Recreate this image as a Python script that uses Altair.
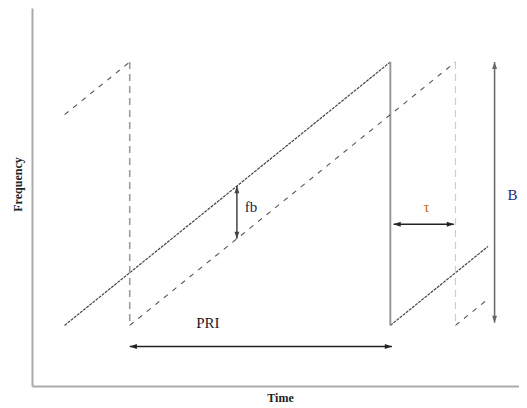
import altair as alt
import pandas as pd

# Transmitted FMCW sweep (solid sawtooth)
tx_seg = ["a", "a", "b", "b"]
tx_t = [0, 10, 10, 13]
tx_f = [0, 10, 0, 3]
tx_drop_t = [10, 10]
tx_drop_f = [10, 0]

# Received (delayed) sweep (dashed sawtooth)
rx_seg = ["a", "a", "b", "b", "c", "c"]
rx_t = [0, 2, 2, 12, 12, 13]
rx_f = [8, 10, 0, 10, 0, 1]
rx_drop1_t = [2, 2]
rx_drop1_f = [10, 0]
rx_drop2_t = [12, 12]
rx_drop2_f = [10, 0]

# Dimension arrows
arr_name = ["fb", "tau", "B", "PRI"]
arr_t1 = [5.29, 10.1, 13.2, 2.0]
arr_t2 = [5.29, 11.95, 13.2, 10.05]
arr_f1 = [5.29, 3.84, 10.0, -0.8]
arr_f2 = [3.29, 3.84, 0.1, -0.8]
arr_color = ["#444444", "#222222", "#666666", "#222222"]
arr_vertical = [True, False, True, False]

# Labels
lab_text = ["fb", "τ", "B", "PRI"]
lab_t = [5.72, 11.11, 13.75, 4.4]
lab_f = [4.49, 4.49, 4.94, 0.08]
lab_color = ["#1a2550", "#c06a10", "#1a2a7a", "#1a1a2a"]

X_DOM = [-1.0, 13.95]
Y_DOM = [-2.3, 12.05]
SERIF = "Liberation Serif"

xs = alt.Scale(domain=X_DOM, nice=False, zero=False)
ys = alt.Scale(domain=Y_DOM, nice=False, zero=False)

x_axis = alt.Axis(title="Time", ticks=False, labels=False, grid=False,
                  domainColor="#aaaaaa", domainWidth=2,
                  titleFont=SERIF, titleFontWeight="bold", titleFontSize=12,
                  titleColor="#222222", titleX=248, titleY=11,
                  titleAlign="center", titleBaseline="middle")
y_axis = alt.Axis(title="Frequency", ticks=False, labels=False, grid=False,
                  domainColor="#aaaaaa", domainWidth=2,
                  titleFont=SERIF, titleFontWeight="bold", titleFontSize=12,
                  titleColor="#222222", titleX=-15, titleY=176, titleAngle=270,
                  titleAlign="center", titleBaseline="middle")

tx = pd.DataFrame({"seg": tx_seg, "t": tx_t, "f": tx_f})
rx = pd.DataFrame({"seg": rx_seg, "t": rx_t, "f": rx_f})

base_x = alt.X("t:Q", scale=xs, axis=x_axis)
base_y = alt.Y("f:Q", scale=ys, axis=y_axis)

tx_line = alt.Chart(tx).mark_line(color="#444444", strokeWidth=1.2, strokeDash=[3, 1]).encode(
    x=base_x, y=base_y, detail="seg:N")
tx_drop = alt.Chart(pd.DataFrame({"t": tx_drop_t, "f": tx_drop_f})).mark_line(
    color="#999999", strokeWidth=2).encode(x=alt.X("t:Q", scale=xs), y=alt.Y("f:Q", scale=ys))

rx_line = alt.Chart(rx).mark_line(color="#555555", strokeWidth=1.1, strokeDash=[5, 6]).encode(
    x=alt.X("t:Q", scale=xs), y=alt.Y("f:Q", scale=ys), detail="seg:N")
rx_drop1 = alt.Chart(pd.DataFrame({"t": rx_drop1_t, "f": rx_drop1_f})).mark_line(
    color="#9a9a9a", strokeWidth=1.6, strokeDash=[7, 5]).encode(
    x=alt.X("t:Q", scale=xs), y=alt.Y("f:Q", scale=ys))
rx_drop2 = alt.Chart(pd.DataFrame({"t": rx_drop2_t, "f": rx_drop2_f})).mark_line(
    color="#cccccc", strokeWidth=1.2, strokeDash=[7, 5]).encode(
    x=alt.X("t:Q", scale=xs), y=alt.Y("f:Q", scale=ys))

arr = pd.DataFrame({"name": arr_name, "t1": arr_t1, "t2": arr_t2, "f1": arr_f1,
                    "f2": arr_f2, "color": arr_color, "vertical": arr_vertical})
shafts = alt.Chart(arr).mark_rule(strokeWidth=1.5).encode(
    x=alt.X("t1:Q", scale=xs), x2="t2:Q",
    y=alt.Y("f1:Q", scale=ys), y2="f2:Q",
    color=alt.Color("color:N", scale=None))

UP = "M0,0 L-0.45,1.3 L0.45,1.3 Z"
DOWN = "M0,0 L-0.45,-1.3 L0.45,-1.3 Z"
LEFT = "M0,0 L1.3,-0.45 L1.3,0.45 Z"
RIGHT = "M0,0 L-1.3,-0.45 L-1.3,0.45 Z"

vert = arr[arr["vertical"]]
hori = arr[~arr["vertical"]]

def head(df, tcol, fcol, shape):
    return alt.Chart(df).mark_point(shape=shape, filled=True, size=120, opacity=1).encode(
        x=alt.X(f"{tcol}:Q", scale=xs), y=alt.Y(f"{fcol}:Q", scale=ys),
        color=alt.Color("color:N", scale=None))

heads = [head(vert, "t1", "f1", UP), head(vert, "t2", "f2", DOWN),
         head(hori, "t1", "f1", LEFT), head(hori, "t2", "f2", RIGHT)]

labs = pd.DataFrame({"text": lab_text, "t": lab_t, "f": lab_f, "color": lab_color})
labels = alt.Chart(labs).mark_text(font=SERIF, fontSize=15, align="center", baseline="middle").encode(
    x=alt.X("t:Q", scale=xs), y=alt.Y("f:Q", scale=ys), text="text:N",
    color=alt.Color("color:N", scale=None))

chart = alt.layer(tx_line, tx_drop, rx_line, rx_drop1, rx_drop2, shafts, *heads, labels).properties(
    width=487, height=378,
    autosize=alt.AutoSizeParams(type="none"),
    padding={"left": 24, "top": 0, "right": 0, "bottom": 20},
).configure_view(stroke=None)

chart.save("out.html", embed_options={"renderer": "svg", "actions": False})
